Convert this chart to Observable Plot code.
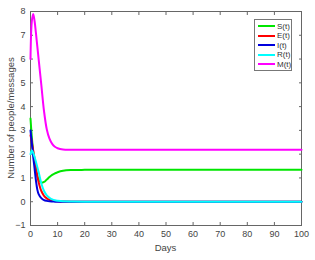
<!DOCTYPE html>
<html><head><meta charset="utf-8">
<script src="https://cdn.jsdelivr.net/npm/d3@7"></script>
<script src="https://cdn.jsdelivr.net/npm/@observablehq/plot@0.6"></script>
<style>
body{margin:0;background:#fff;}
#wrap{position:relative;width:315px;height:260px;font-family:"Liberation Sans",Arial,sans-serif;}
#legend{position:absolute;left:254px;top:19px;width:38px;height:52px;border:1px solid #777;background:#fff;box-sizing:border-box;}
.item{position:absolute;left:3px;height:10px;font-size:8px;color:#333;display:flex;align-items:center;white-space:nowrap;}
.item span.sw{display:inline-block;width:17px;height:2px;margin-right:2px;}
#xlab{position:absolute;left:0;width:331px;top:242px;text-align:center;font-size:9.5px;color:#444;}
#ylab{position:absolute;left:10px;top:118px;font-size:9.5px;color:#444;transform:translate(-50%,-50%) rotate(-90deg);white-space:nowrap;}
</style>
</head><body>
<div id="wrap"><div id="legend"></div><div id="xlab">Days</div><div id="ylab">Number of people/messages</div></div>
<script>
const seriesNames = ["S(t)", "E(t)", "I(t)", "R(t)", "M(t)"];
const seriesColors = ["#00e600", "#ff0000", "#0000dd", "#00ffff", "#ff00ff"];

const days = [0, 0.5, 1, 1.5, 2, 2.5, 3, 4, 5, 6, 7, 8, 9, 10, 12, 15, 20, 30, 50, 100];
const S = [3.5, 2.7, 2.1, 1.65, 1.3, 1.08, 0.93, 0.8, 0.83, 0.93, 1.04, 1.13, 1.19, 1.24, 1.3, 1.33, 1.34, 1.34, 1.34, 1.34];
const E = [2.8, 2.5, 2.15, 1.8, 1.45, 1.1, 0.82, 0.45, 0.25, 0.14, 0.08, 0.045, 0.025, 0.015, 0.005, 0, 0, 0, 0, 0];
const I = [3.0, 2.45, 1.9, 1.4, 0.9, 0.52, 0.32, 0.15, 0.07, 0.035, 0.015, 0.008, 0.004, 0, 0, 0, 0, 0, 0, 0];
const R = [2.0, 2.15, 2.05, 1.88, 1.68, 1.46, 1.25, 0.77, 0.45, 0.27, 0.17, 0.1, 0.06, 0.04, 0.015, 0.005, 0, 0, 0, 0];
const M = [6.0, 7.6, 7.9, 7.6, 7.1, 6.55, 6.0, 4.9, 3.8, 3.05, 2.65, 2.43, 2.31, 2.25, 2.2, 2.19, 2.19, 2.19, 2.19, 2.19];

const xTicks = [0, 10, 20, 30, 40, 50, 60, 70, 80, 90, 100];
const yTicks = [-1, 0, 1, 2, 3, 4, 5, 6, 7, 8];

const allSeries = [S, E, I, R, M];
const data = [];
allSeries.forEach((vals, k) => vals.forEach((v, i) => data.push({t: days[i], v, s: seriesNames[k]})));

const axisColor = "#666";
const chart = Plot.plot({
  width: 315, height: 260,
  marginLeft: 30, marginRight: 14, marginTop: 11, marginBottom: 35,
  style: {fontFamily: "Liberation Sans, Arial, sans-serif", fontSize: "9px", color: "#444", background: "#fff"},
  x: {domain: [0, 100]},
  y: {domain: [-1, 8]},
  color: {domain: seriesNames, range: seriesColors},
  marks: [
    Plot.frame({stroke: axisColor}),
    Plot.axisX({anchor: "bottom", ticks: xTicks, tickSize: -3, tickPadding: 8, stroke: axisColor, label: null, fill: "#444"}),
    Plot.axisX({anchor: "top", ticks: xTicks, tickSize: -3, tickFormat: () => "", stroke: axisColor, label: null}),
    Plot.axisY({anchor: "left", ticks: yTicks, tickSize: -3, tickPadding: 8, stroke: axisColor, label: null, fill: "#444"}),
    Plot.axisY({anchor: "right", ticks: yTicks, tickSize: -3, tickFormat: () => "", stroke: axisColor, label: null}),
    Plot.line(data, {x: "t", y: "v", z: "s", stroke: "s", strokeWidth: 2, curve: "catmull-rom"})
  ]
});
const wrap = document.getElementById("wrap");
wrap.insertBefore(chart, wrap.firstChild);

const legend = document.getElementById("legend");
seriesNames.forEach((n, i) => {
  const d = document.createElement("div");
  d.className = "item";
  d.style.top = (1 + i * 9.6) + "px";
  d.innerHTML = `<span class="sw" style="background:${seriesColors[i]}"></span>${n}`;
  legend.appendChild(d);
});
</script>
</body></html>
